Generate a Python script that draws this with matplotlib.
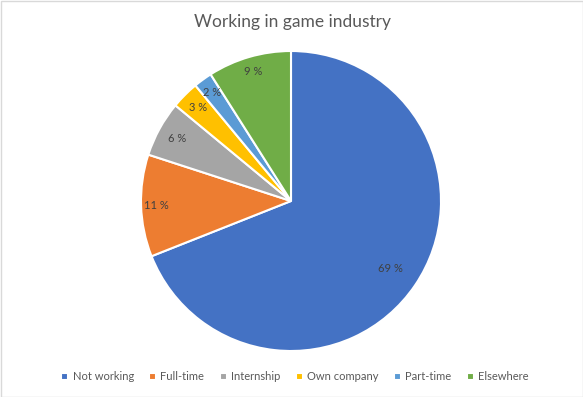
import matplotlib
matplotlib.use("Agg")
import matplotlib.pyplot as plt
import numpy as np
from matplotlib.patches import Rectangle

# data
categories = ["Not working", "Full-time", "Internship", "Own company", "Part-time", "Elsewhere"]
shares = [69, 11, 6, 3, 2, 9]
colors = ["#4472C4", "#ED7D31", "#A5A5A5", "#FFC000", "#5B9BD5", "#70AD47"]
label_radius = [0.80, 0.90, 0.87, 0.88, 0.89, 0.90]

plt.rcParams['font.family'] = ['Lato', 'DejaVu Sans']
text_color = "#595959"

fig = plt.figure(figsize=(5.83, 3.97), dpi=100)
ax = fig.add_axes([(291 - 150) / 583, 1 - 351 / 397, 300 / 583, 300 / 397])

wedges, _ = ax.pie(shares, colors=colors, startangle=90, counterclock=False,
                   wedgeprops=dict(edgecolor="white", linewidth=1.5))
ax.set_xlim(-1, 1)
ax.set_ylim(-1, 1)
ax.set_aspect("equal")

# percentage labels
for w, s, r in zip(wedges, shares, label_radius):
    mid = np.deg2rad((w.theta1 + w.theta2) / 2)
    ax.text(r * np.cos(mid), r * np.sin(mid), f"{s} %", ha="center", va="center",
            fontsize=8, color="#404040")

fig.text(292 / 583, 1 - 22 / 397, "Working in game industry", ha="center", va="center",
         fontsize=12.5, color=text_color)

fig.legend(wedges, categories, loc="center", bbox_to_anchor=(295 / 583, 1 - 377 / 397),
           ncol=6, frameon=False, fontsize=8, handlelength=0.6, handleheight=0.6,
           handletextpad=0.4, columnspacing=1.4, labelcolor=text_color)

# chart border
fig.patches.append(Rectangle((0.5 / 583, 0.5 / 397), 1 - 1 / 583, 1 - 1 / 397,
                             transform=fig.transFigure, fill=False,
                             edgecolor="#D9D9D9", linewidth=1))

fig.savefig("out.png", dpi=100)
